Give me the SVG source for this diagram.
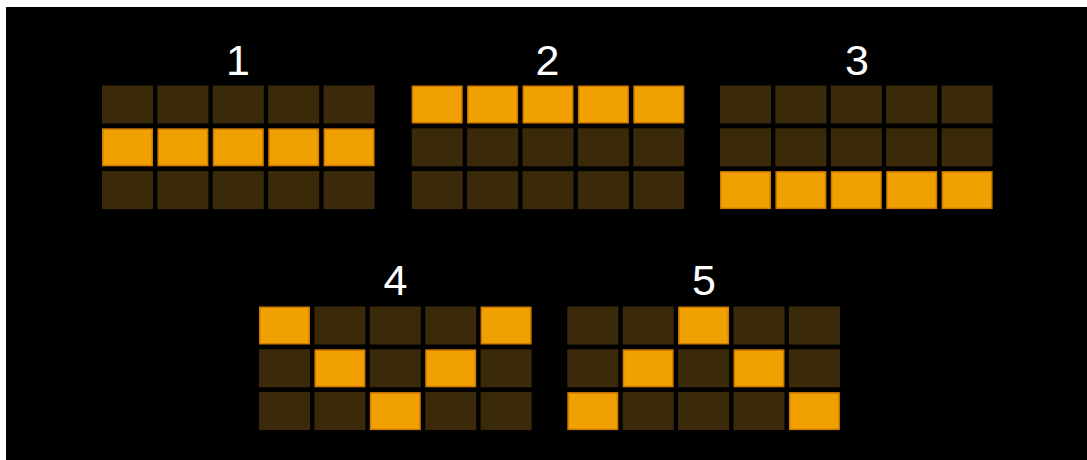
<svg xmlns="http://www.w3.org/2000/svg" width="1087" height="460" viewBox="0 0 1087 460">
<style>
.d{fill:#3b2a0a}
.o{fill:#f0a000;stroke:#cf7a00;stroke-width:1.5}
.lbl{fill:#ffffff;font-family:"Liberation Sans",Arial,sans-serif;font-size:43px;text-anchor:middle}
</style>
<rect x="0" y="0" width="1087" height="460" fill="#ffffff"/>
<rect x="6" y="7" width="1081" height="453" fill="#000000"/>
<g id="grid1">
<text class="lbl" x="238" y="75">1</text>
<rect class="d" x="102" y="85.5" width="51" height="38"/><rect class="d" x="157.4" y="85.5" width="51" height="38"/><rect class="d" x="212.8" y="85.5" width="51" height="38"/><rect class="d" x="268.2" y="85.5" width="51" height="38"/><rect class="d" x="323.6" y="85.5" width="51" height="38"/>
<rect class="o" x="102.75" y="129.05" width="49.5" height="36.5"/><rect class="o" x="158.15" y="129.05" width="49.5" height="36.5"/><rect class="o" x="213.55" y="129.05" width="49.5" height="36.5"/><rect class="o" x="268.95" y="129.05" width="49.5" height="36.5"/><rect class="o" x="324.35" y="129.05" width="49.5" height="36.5"/>
<rect class="d" x="102" y="171.1" width="51" height="38"/><rect class="d" x="157.4" y="171.1" width="51" height="38"/><rect class="d" x="212.8" y="171.1" width="51" height="38"/><rect class="d" x="268.2" y="171.1" width="51" height="38"/><rect class="d" x="323.6" y="171.1" width="51" height="38"/>
</g>
<g id="grid2">
<text class="lbl" x="547.5" y="75">2</text>
<rect class="o" x="412.45" y="86.25" width="49.5" height="36.5"/><rect class="o" x="467.85" y="86.25" width="49.5" height="36.5"/><rect class="o" x="523.25" y="86.25" width="49.5" height="36.5"/><rect class="o" x="578.65" y="86.25" width="49.5" height="36.5"/><rect class="o" x="634.05" y="86.25" width="49.5" height="36.5"/>
<rect class="d" x="411.7" y="128.3" width="51" height="38"/><rect class="d" x="467.1" y="128.3" width="51" height="38"/><rect class="d" x="522.5" y="128.3" width="51" height="38"/><rect class="d" x="577.9" y="128.3" width="51" height="38"/><rect class="d" x="633.3" y="128.3" width="51" height="38"/>
<rect class="d" x="411.7" y="171.1" width="51" height="38"/><rect class="d" x="467.1" y="171.1" width="51" height="38"/><rect class="d" x="522.5" y="171.1" width="51" height="38"/><rect class="d" x="577.9" y="171.1" width="51" height="38"/><rect class="d" x="633.3" y="171.1" width="51" height="38"/>
</g>
<g id="grid3">
<text class="lbl" x="857" y="75">3</text>
<rect class="d" x="720" y="85.5" width="51" height="38"/><rect class="d" x="775.4" y="85.5" width="51" height="38"/><rect class="d" x="830.8" y="85.5" width="51" height="38"/><rect class="d" x="886.2" y="85.5" width="51" height="38"/><rect class="d" x="941.6" y="85.5" width="51" height="38"/>
<rect class="d" x="720" y="128.3" width="51" height="38"/><rect class="d" x="775.4" y="128.3" width="51" height="38"/><rect class="d" x="830.8" y="128.3" width="51" height="38"/><rect class="d" x="886.2" y="128.3" width="51" height="38"/><rect class="d" x="941.6" y="128.3" width="51" height="38"/>
<rect class="o" x="720.75" y="171.85" width="49.5" height="36.5"/><rect class="o" x="776.15" y="171.85" width="49.5" height="36.5"/><rect class="o" x="831.55" y="171.85" width="49.5" height="36.5"/><rect class="o" x="886.95" y="171.85" width="49.5" height="36.5"/><rect class="o" x="942.35" y="171.85" width="49.5" height="36.5"/>
</g>
<g id="grid4">
<text class="lbl" x="395.5" y="295">4</text>
<rect class="o" x="259.75" y="307.25" width="49.5" height="36.5"/><rect class="d" x="314.4" y="306.5" width="51" height="38"/><rect class="d" x="369.8" y="306.5" width="51" height="38"/><rect class="d" x="425.2" y="306.5" width="51" height="38"/><rect class="o" x="481.35" y="307.25" width="49.5" height="36.5"/>
<rect class="d" x="259" y="349.3" width="51" height="38"/><rect class="o" x="315.15" y="350.05" width="49.5" height="36.5"/><rect class="d" x="369.8" y="349.3" width="51" height="38"/><rect class="o" x="425.95" y="350.05" width="49.5" height="36.5"/><rect class="d" x="480.6" y="349.3" width="51" height="38"/>
<rect class="d" x="259" y="392.1" width="51" height="38"/><rect class="d" x="314.4" y="392.1" width="51" height="38"/><rect class="o" x="370.55" y="392.85" width="49.5" height="36.5"/><rect class="d" x="425.2" y="392.1" width="51" height="38"/><rect class="d" x="480.6" y="392.1" width="51" height="38"/>
</g>
<g id="grid5">
<text class="lbl" x="704" y="295">5</text>
<rect class="d" x="567.3" y="306.5" width="51" height="38"/><rect class="d" x="622.7" y="306.5" width="51" height="38"/><rect class="o" x="678.85" y="307.25" width="49.5" height="36.5"/><rect class="d" x="733.5" y="306.5" width="51" height="38"/><rect class="d" x="788.9" y="306.5" width="51" height="38"/>
<rect class="d" x="567.3" y="349.3" width="51" height="38"/><rect class="o" x="623.45" y="350.05" width="49.5" height="36.5"/><rect class="d" x="678.1" y="349.3" width="51" height="38"/><rect class="o" x="734.25" y="350.05" width="49.5" height="36.5"/><rect class="d" x="788.9" y="349.3" width="51" height="38"/>
<rect class="o" x="568.05" y="392.85" width="49.5" height="36.5"/><rect class="d" x="622.7" y="392.1" width="51" height="38"/><rect class="d" x="678.1" y="392.1" width="51" height="38"/><rect class="d" x="733.5" y="392.1" width="51" height="38"/><rect class="o" x="789.65" y="392.85" width="49.5" height="36.5"/>
</g>
<g id="connectors"></g>
</svg>
